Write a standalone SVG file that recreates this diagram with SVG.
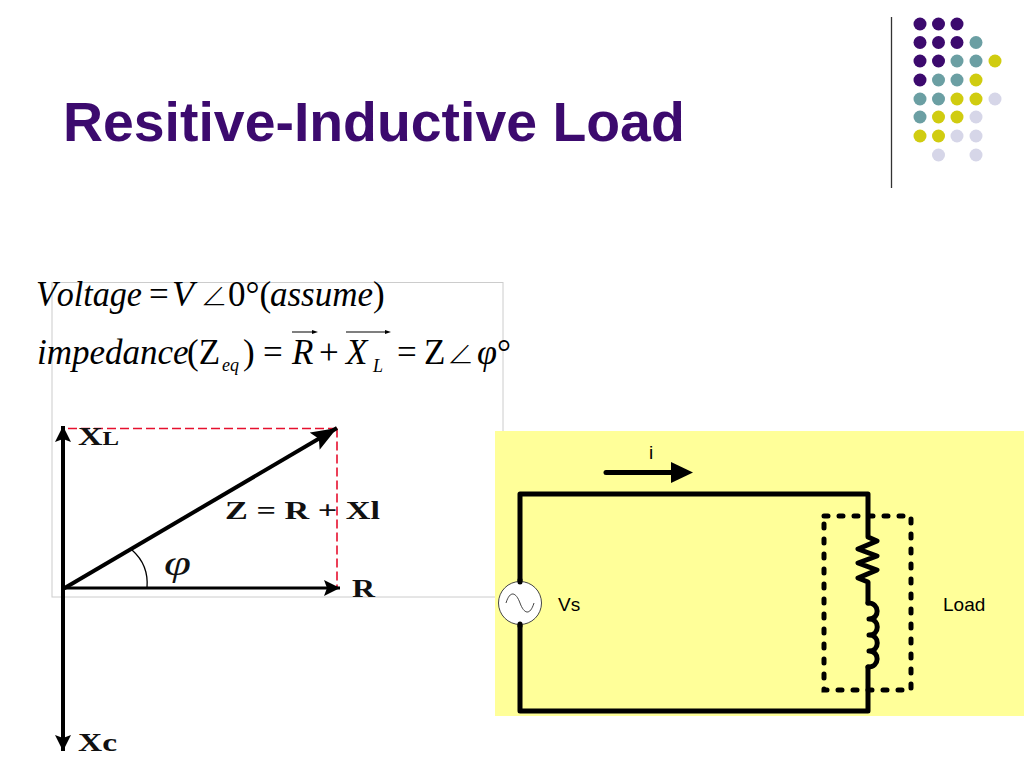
<svg xmlns="http://www.w3.org/2000/svg" width="1024" height="768" viewBox="0 0 1024 768">
<style>
.p{fill:#3c0a6e}.t{fill:#6b9fa3}.y{fill:#d0cc10}.l{fill:#d6d6e8}
.eq{font-family:"Liberation Serif",serif;font-size:35px;fill:#000}
.i{font-style:italic}
.ang{font-family:"Noto Sans CJK JP","Liberation Serif",sans-serif;font-weight:300;font-size:27px}
.sub{font-family:"Liberation Serif",serif;font-size:18px;font-style:italic}
.lab{font-family:"Liberation Serif",serif;font-weight:bold;fill:#111}
.cap{font-family:"Liberation Sans",sans-serif;font-size:19px;fill:#000}
.w{fill:none;stroke:#000;stroke-width:5;stroke-linecap:round;stroke-linejoin:round}
</style>
<defs>
<marker id="ah" markerUnits="userSpaceOnUse" markerWidth="28" markerHeight="22" refX="26" refY="10" orient="auto"><path d="M0,0L26,10L0,20L5,10Z" fill="#000"/></marker>
<marker id="ahs" markerUnits="userSpaceOnUse" markerWidth="18" markerHeight="18" refX="16" refY="8" orient="auto"><path d="M0,0L16,8L0,16L3,8Z" fill="#000"/></marker>
</defs>
<rect width="1024" height="768" fill="#fff"/>
<g id="decor">
<line x1="891.500" y1="17" x2="891.500" y2="188" stroke="#333" stroke-width="1.300"/>
<g class="p"><circle cx="920" cy="24" r="6.500"/><circle cx="938.500" cy="24" r="6.500"/><circle cx="957" cy="24" r="6.500"/><circle cx="920" cy="42.500" r="6.500"/><circle cx="938.500" cy="42.500" r="6.500"/><circle cx="957" cy="42.500" r="6.500"/><circle cx="920" cy="61" r="6.500"/><circle cx="938.500" cy="61" r="6.500"/><circle cx="920" cy="80" r="6.500"/></g>
<g class="t"><circle cx="976" cy="42.500" r="6.500"/><circle cx="957" cy="61" r="6.500"/><circle cx="976" cy="61" r="6.500"/><circle cx="938.500" cy="80" r="6.500"/><circle cx="957" cy="80" r="6.500"/><circle cx="920" cy="99" r="6.500"/><circle cx="938.500" cy="99" r="6.500"/><circle cx="920" cy="117" r="6.500"/></g>
<g class="y"><circle cx="995" cy="61" r="6.500"/><circle cx="976" cy="80" r="6.500"/><circle cx="957" cy="99" r="6.500"/><circle cx="976" cy="99" r="6.500"/><circle cx="938.500" cy="117" r="6.500"/><circle cx="957" cy="117" r="6.500"/><circle cx="920" cy="136" r="6.500"/><circle cx="938.500" cy="136" r="6.500"/></g>
<g class="l"><circle cx="995" cy="99" r="6.500"/><circle cx="976" cy="117" r="6.500"/><circle cx="957" cy="136" r="6.500"/><circle cx="976" cy="136" r="6.500"/><circle cx="938.500" cy="155" r="6.500"/><circle cx="976" cy="155" r="6.500"/></g>
</g>
<text id="title" x="63" y="141" font-family="Liberation Sans, sans-serif" font-weight="bold" font-size="55.400" fill="#3c0a6e">Resitive-Inductive Load</text>
<rect id="frame" x="52" y="282.500" width="451" height="314.500" fill="none" stroke="#ccc" stroke-width="1"/>
<g id="equation-1" class="eq">
<text class="i" x="36" y="306" font-size="36" style="font-kerning:none" textLength="106" lengthAdjust="spacingAndGlyphs">Voltage</text><text x="149" y="306">=</text><text class="i" x="172" y="306" font-size="36">V</text>
<text class="ang" x="200.500" y="306">∠</text>
<text x="228" y="306">0°(</text><text class="i" x="270" y="306">assume</text><text x="373" y="306">)</text>
</g>
<g id="equation-2" class="eq">
<text class="i" x="37" y="364">impedance</text><text x="187" y="364">(Z</text><text class="sub" x="222" y="371">eq</text><text x="243" y="364">)</text>
<text x="263" y="364">=</text><text class="i" x="292" y="364">R</text><text x="319" y="364">+</text><text class="i" x="346" y="364">X</text><text class="sub" x="373" y="372">L</text>
<text x="397" y="364">=</text><text x="424" y="364">Z</text><text class="ang" x="447" y="364">∠</text><text class="i" x="477" y="364" textLength="20" lengthAdjust="spacingAndGlyphs">φ</text><text x="497" y="364">°</text>
<path d="M292,332H313M346,332H386" stroke="#000" stroke-width="1.200"/><path d="M312,330L318,332L312,334ZM385,330L391,332L385,334Z"/>
</g>
<g id="phasor-connectors">
<path d="M337,428.500H63M337,428.500V588" fill="none" stroke="#e6102e" stroke-width="1.600" stroke-dasharray="9 4"/>
<line x1="63" y1="588" x2="63" y2="426" stroke="#000" stroke-width="4" marker-end="url(#ahs)"/>
<line x1="63" y1="588" x2="63" y2="751" stroke="#000" stroke-width="4" marker-end="url(#ahs)"/>
<line x1="63" y1="588" x2="340" y2="588" stroke="#000" stroke-width="3" marker-end="url(#ahs)"/>
<line x1="63" y1="589" x2="337" y2="428" stroke="#000" stroke-width="4" marker-end="url(#ah)"/>
<path d="M132,550Q149,565 147,588" fill="none" stroke="#000" stroke-width="1.300"/>
</g>
<g id="phasor-labels">
<text class="lab" x="78" y="445" font-size="26" textLength="41" lengthAdjust="spacingAndGlyphs">X<tspan font-size="19">L</tspan></text>
<text class="lab" x="225" y="519" font-size="26" textLength="155" lengthAdjust="spacingAndGlyphs">Z = R + Xl</text>
<text class="lab" x="352" y="597" font-size="26" textLength="23" lengthAdjust="spacingAndGlyphs">R</text>
<text class="lab" x="78" y="751" font-size="26" textLength="39" lengthAdjust="spacingAndGlyphs">Xc</text>
<text x="164" y="575" font-family="Liberation Serif, serif" font-style="italic" font-size="36" fill="#111" textLength="27" lengthAdjust="spacingAndGlyphs">φ</text>
</g>
<rect id="circuit-bg" x="495" y="431" width="529" height="285" fill="#ffff99"/>
<g id="circuit-connectors">
<path class="w" d="M520,582V494H868V537L877,541L858,549L877,556L858,563L877,570L858,578L868,582V603"/>
<path class="w" d="M520,624V711H868V667"/>
<path class="w" d="M868,603C880,603 880,619 869,619C880,619 880,635 869,635C880,635 880,651 869,651C880,651 880,667 868,667"/>
<rect x="824" y="516" width="87" height="174" fill="none" stroke="#000" stroke-width="5" stroke-dasharray="4 11" stroke-linecap="round"/>
<line x1="606" y1="472.500" x2="675" y2="472.500" stroke="#000" stroke-width="5" stroke-linecap="round"/>
<path d="M671,462L693,472.500L671,483Z"/>
</g>
<g id="source">
<circle cx="520" cy="603" r="21.500" fill="#fff" stroke="#444" stroke-width="1"/>
<path d="M506,603C510,590 516,592 520,603C524,614 530,616 534,603" fill="none" stroke="#444" stroke-width="1"/>
<path class="w" d="M520,582V580M520,624V626"/>
</g>
<g id="circuit-labels">
<text class="cap" x="558" y="611">Vs</text>
<text class="cap" x="943" y="611">Load</text>
<text class="cap" x="649" y="459">i</text>
</g>
</svg>
